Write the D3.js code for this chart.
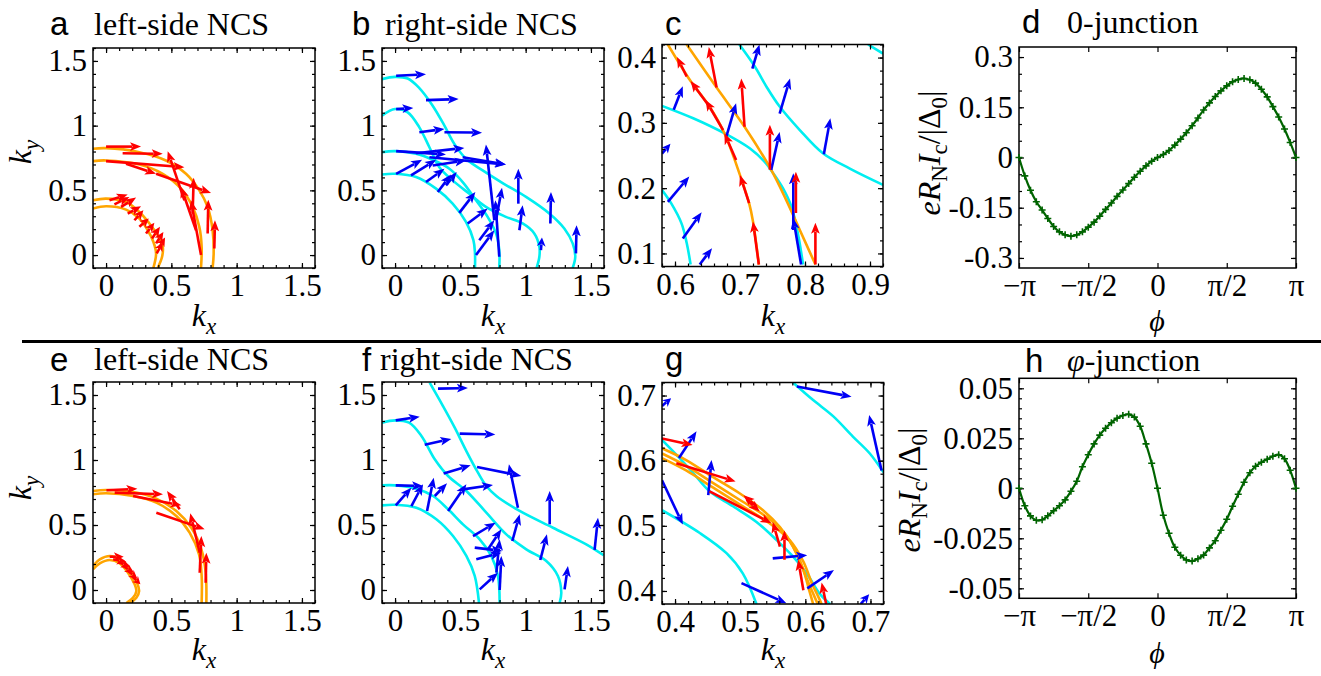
<!DOCTYPE html>
<html lang="en">
<head>
<meta charset="UTF-8">
<title>NCS spin textures and current-phase relations</title>
<script src="https://d3js.org/d3.v7.min.js"></script>
<style>
  body { margin: 0; background: #fff; }
</style>
</head>
<body>
<script>
// ---------- data ----------
const PI = Math.PI;

// panel a: left-side NCS, orange Fermi lines and red spin arrows
const aOuter1 = [[-0.1,0.822],[0,0.826],[0.255,0.795],[0.459,0.731],[0.612,0.628],[0.714,0.5],[0.778,0.372],[0.816,0.192],[0.824,0.013],[0.816,-0.1]];
const aOuter2 = [[-0.1,0.726],[0,0.731],[0.255,0.7],[0.434,0.628],[0.574,0.513],[0.663,0.372],[0.714,0.218],[0.732,0.064],[0.727,-0.1]];
const aInner1 = [[-0.1,0.423],[0,0.436],[0.153,0.41],[0.255,0.333],[0.332,0.244],[0.395,0.154],[0.434,0.064],[0.429,-0.013],[0.395,-0.1]];
const aInner2 = [[-0.1,0.359],[0,0.377],[0.153,0.351],[0.255,0.282],[0.319,0.192],[0.362,0.103],[0.383,0.013],[0.362,-0.1]];
const aRed = [
  [0,0.838,0.268,0.838],[0.127,0.787,0.434,0.782],[0,0.726,0.6,0.679],[0.153,0.705,0.383,0.628],
  [0.6,0.423,0.472,0.803],[0.383,0.628,0.804,0.479],[0.663,0.321,0.671,0.597],[0.778,0.167,0.783,0.428],
  [0.829,0.051,0.834,0.269],[0.727,0,0.65,0.423],[0.689,0.192,0.574,0.526],
  [0.026,0.423,0.166,0.467],[0.064,0.392,0.179,0.449],[0.115,0.372,0.23,0.444],[0.166,0.321,0.268,0.377],
  [0.217,0.269,0.286,0.346],[0.255,0.218,0.327,0.282],[0.306,0.167,0.37,0.249],[0.352,0.128,0.413,0.218],
  [0.383,0.09,0.439,0.179],[0.403,0.051,0.452,0.136],[0.388,0.013,0.434,0.095]
];

// panel b: right-side NCS, cyan Fermi lines and blue spin arrows
const bLine1 = [[-0.1,1.359],[0,1.377],[0.097,1.364],[0.186,1.29],[0.288,1.154],[0.378,1.0],[0.454,0.859],[0.543,0.744],[0.671,0.654],[0.824,0.556],[1.003,0.449],[1.181,0.321],[1.296,0.205],[1.36,0.09],[1.38,-0.013],[1.36,-0.1]];
const bLine2 = [[-0.1,1.077],[0,1.128],[0.097,1.103],[0.186,0.987],[0.263,0.833],[0.339,0.679],[0.441,0.577],[0.569,0.474],[0.696,0.372],[0.849,0.295],[0.977,0.244],[1.066,0.167],[1.105,0.064],[1.105,-0.013],[1.084,-0.1]];
const bLine3 = [[-0.1,0.795],[0,0.803],[0.161,0.782],[0.288,0.736],[0.416,0.667],[0.518,0.564],[0.62,0.423],[0.709,0.295],[0.773,0.167],[0.798,0.038],[0.798,-0.1]];
const bLine4 = [[-0.1,0.623],[0,0.628],[0.161,0.603],[0.314,0.513],[0.441,0.397],[0.543,0.256],[0.6,0.115],[0.612,0.013],[0.612,-0.1]];
const bBlue = [
  [0.008,1.385,0.237,1.397],[0.237,1.197,0.487,1.205],[0.008,1.128,0.14,1.136],[0.186,0.949,0.378,0.974],
  [0.378,0.949,0.666,0.946],[0.008,0.803,0.39,0.777],[0.161,0.787,0.531,0.828],[0.263,0.756,0.849,0.7],
  [0.008,0.628,0.207,0.736],[0.122,0.615,0.314,0.736],[0.237,0.564,0.378,0.667],[0.288,0.692,0.543,0.731],
  [0.327,0.487,0.429,0.623],[0.39,0.538,0.472,0.641],[0.492,0.326,0.615,0.487],[0.556,0.244,0.709,0.359],
  [0.62,0,0.76,0.192],[0.645,0.115,0.76,0.269],[0.76,0.269,0.696,0.854],[0.773,0.269,0.819,0.521],
  [0.798,-0.013,0.768,0.423],[0.952,0.192,0.977,0.385],[0.944,0.397,0.944,0.667],[1.189,0.244,1.194,0.487],
  [1.117,0.038,1.125,0.136],[1.385,0.013,1.39,0.231],[0.518,0.756,0.849,0.7]
];

// panel c: zoom of the crossing region
const cOrange1 = [[0.618,0.42],[0.664,0.354],[0.707,0.294],[0.748,0.228],[0.771,0.182],[0.792,0.136],[0.816,0.083]];
const cOrange2 = [[0.589,0.42],[0.624,0.364],[0.653,0.325],[0.676,0.284],[0.7,0.22],[0.714,0.177],[0.72,0.149],[0.729,0.083]];
const cCyan1 = [[0.58,0.326],[0.628,0.307],[0.678,0.283],[0.715,0.261],[0.74,0.238],[0.751,0.223],[0.766,0.2],[0.779,0.172],[0.789,0.131],[0.797,0.083]];
const cCyan2 = [[0.699,0.42],[0.723,0.386],[0.741,0.355],[0.761,0.325],[0.792,0.289],[0.828,0.253],[0.869,0.23],[0.92,0.205]];
const cCyan3 = [[0.897,0.42],[0.92,0.406]];
const cCyan4 = [[0.58,0.197],[0.594,0.177],[0.61,0.146],[0.618,0.116],[0.624,0.083]];
const cRed = [
  [0.664,0.354,0.652,0.416],[0.707,0.294,0.702,0.368],[0.746,0.228,0.746,0.297],[0.786,0.162,0.786,0.225],
  [0.816,0.083,0.816,0.147],[0.729,0.083,0.72,0.149],[0.714,0.177,0.7,0.22],[0.694,0.243,0.676,0.284],
  [0.674,0.289,0.647,0.335],[0.653,0.325,0.624,0.364],[0.618,0.371,0.603,0.401]
];
const cBlue = [
  [0.598,0.32,0.612,0.356],[0.679,0.279,0.694,0.33],[0.748,0.228,0.761,0.286],[0.761,0.314,0.777,0.368],
  [0.829,0.252,0.839,0.307],[0.719,0.383,0.73,0.42],[0.589,0.179,0.622,0.218],[0.612,0.123,0.641,0.163],
  [0.638,0.083,0.657,0.108],[0.58,0.253,0.593,0.268],[0.794,0.083,0.782,0.154],[0.782,0.136,0.782,0.223]
];

// panel d: 0-junction current-phase relation (phi in units of pi)
const dPhi = [-1,-0.958,-0.917,-0.875,-0.833,-0.792,-0.75,-0.708,-0.667,-0.625,-0.583,-0.542,-0.5,-0.458,-0.417,-0.375,-0.333,-0.292,-0.25,-0.208,-0.167,-0.125,-0.083,-0.042,0,
  0.042,0.083,0.125,0.167,0.208,0.25,0.292,0.333,0.375,0.417,0.458,0.5,0.542,0.583,0.625,0.667,0.708,0.75,0.792,0.833,0.875,0.917,0.958,1];
const dCurrent = [0,-0.055,-0.098,-0.132,-0.157,-0.182,-0.206,-0.222,-0.231,-0.235,-0.231,-0.222,-0.208,-0.193,-0.175,-0.155,-0.136,-0.116,-0.097,-0.078,-0.059,-0.041,-0.025,-0.011,0,
  0.009,0.021,0.037,0.055,0.074,0.095,0.118,0.142,0.163,0.182,0.199,0.214,0.226,0.233,0.236,0.232,0.222,0.204,0.181,0.152,0.121,0.085,0.045,0];

// panel e: left-side NCS (phi-junction case)
const eOuter1 = [[-0.1,0.762],[0,0.769],[0.207,0.754],[0.385,0.703],[0.538,0.608],[0.653,0.479],[0.73,0.313],[0.763,0.133],[0.768,-0.1]];
const eOuter2 = [[-0.1,0.736],[0,0.744],[0.207,0.723],[0.385,0.672],[0.538,0.569],[0.64,0.441],[0.712,0.274],[0.732,0.108],[0.732,-0.1]];
const eInner1 = [[-0.1,0.185],[-0.048,0.236],[0.028,0.262],[0.105,0.236],[0.181,0.159],[0.237,0.056],[0.253,-0.008],[0.232,-0.059],[0.181,-0.1]];
const eInner2 = [[-0.1,0.159],[-0.048,0.205],[0.028,0.231],[0.105,0.205],[0.168,0.133],[0.219,0.044],[0.232,-0.008],[0.207,-0.059],[0.156,-0.1]];
const eRed = [
  [0.003,0.767,0.24,0.779],[0.066,0.749,0.436,0.736],[0.207,0.723,0.577,0.651],[0.564,0.621,0.467,0.762],
  [0.385,0.595,0.755,0.467],[0.717,0.287,0.645,0.59],[0.717,0.133,0.73,0.415],[0.763,0.056,0.768,0.287],
  [0.028,0.256,0.135,0.256],[0.054,0.236,0.156,0.215],[0.092,0.215,0.186,0.179],[0.13,0.185,0.214,0.133],
  [0.168,0.146,0.24,0.087],[0.202,0.103,0.263,0.044]
];

// panel f: right-side NCS (phi-junction case)
const fLine1 = [[0.265,1.595],[0.367,1.415],[0.457,1.249],[0.546,1.069],[0.635,0.903],[0.699,0.8],[0.776,0.723],[0.954,0.608],[1.209,0.479],[1.464,0.351],[1.597,0.267]];
const fLine2 = [[-0.1,1.287],[0,1.305],[0.107,1.287],[0.202,1.185],[0.304,1.005],[0.406,0.877],[0.546,0.762],[0.699,0.595],[0.852,0.428],[1.005,0.313],[1.158,0.223],[1.247,0.108],[1.273,-0.021],[1.26,-0.1]];
const fLine3 = [[-0.1,0.805],[0,0.805],[0.163,0.779],[0.291,0.723],[0.406,0.621],[0.52,0.505],[0.648,0.39],[0.737,0.262],[0.788,0.108],[0.801,-0.1]];
const fLine4 = [[-0.1,0.651],[0,0.656],[0.163,0.633],[0.316,0.544],[0.444,0.415],[0.546,0.262],[0.61,0.108],[0.643,-0.1]];
const fBlue = [
  [0.329,1.549,0.558,1.554],[0.495,1.203,0.768,1.197],[0.005,1.305,0.189,1.333],[0.227,1.118,0.431,1.162],
  [0.372,0.897,0.579,0.959],[0.628,0.946,0.967,0.877],[0.941,0.633,0.872,0.967],[0.005,0.805,0.214,0.8],
  [0.005,0.651,0.125,0.787],[0.125,0.646,0.214,0.813],[0.245,0.608,0.296,0.864],[0.304,0.723,0.398,0.821],
  [0.406,0.608,0.546,0.813],[0.52,0.774,0.75,0.808],[0.597,0.415,0.77,0.518],[0.61,0.326,0.821,0.3],
  [0.622,0.236,0.814,0.287],[0.648,0.005,0.788,0.133],[0.712,0.313,0.814,0.467],[0.776,0.133,0.801,0.39],
  [0.898,0.377,0.954,0.582],[0.801,0,0.814,0.262],[1.112,0.231,1.163,0.428],[1.184,0.505,1.184,0.762],
  [1.298,0.005,1.324,0.185],[1.528,0.308,1.554,0.556]
];

// panel g: zoom of the crossing region (phi-junction case)
const gOrange1 = [[0.38,0.619],[0.417,0.601],[0.458,0.575],[0.499,0.55],[0.535,0.524],[0.561,0.498],[0.581,0.468],[0.597,0.432],[0.606,0.401],[0.612,0.38]];
const gOrange2 = [[0.38,0.611],[0.417,0.592],[0.458,0.566],[0.499,0.54],[0.54,0.514],[0.568,0.489],[0.588,0.455],[0.601,0.422],[0.612,0.396],[0.619,0.38]];
const gOrange3 = [[0.38,0.604],[0.417,0.585],[0.458,0.559],[0.504,0.53],[0.545,0.504],[0.576,0.478],[0.597,0.445],[0.61,0.412],[0.62,0.391],[0.625,0.38]];
const gCyan1 = [[0.38,0.632],[0.407,0.604],[0.428,0.581],[0.453,0.553],[0.489,0.53],[0.525,0.506],[0.556,0.478],[0.581,0.453],[0.602,0.427],[0.622,0.396],[0.638,0.38]];
const gCyan2 = [[0.38,0.524],[0.438,0.489],[0.479,0.458],[0.504,0.427],[0.525,0.38]];
const gCyan3 = [[0.581,0.72],[0.612,0.693],[0.643,0.668],[0.673,0.637],[0.699,0.611],[0.72,0.582]];
const gBlue = [
  [0.587,0.714,0.671,0.698],[0.717,0.585,0.698,0.67],[0.406,0.604,0.433,0.645],[0.451,0.547,0.456,0.601],
  [0.55,0.45,0.603,0.455],[0.603,0.404,0.644,0.432],[0.502,0.412,0.571,0.381],[0.38,0.57,0.412,0.502],
  [0.38,0.684,0.394,0.696],[0.685,0.38,0.698,0.395]
];
const gRed = [
  [0.38,0.634,0.427,0.624],[0.402,0.596,0.493,0.568],[0.453,0.553,0.548,0.504],[0.525,0.53,0.505,0.547],
  [0.51,0.54,0.53,0.522],[0.568,0.448,0.568,0.493],[0.597,0.401,0.589,0.448],[0.632,0.38,0.625,0.413],
  [0.561,0.468,0.55,0.506]
];

// panel h: phi-junction current-phase relation (phi in units of pi)
const hPhi = dPhi;
const hCurrent = [0,-0.0087,-0.0138,-0.016,-0.0157,-0.0137,-0.0112,-0.0087,-0.0058,-0.0015,0.0035,0.0108,0.0168,0.0222,0.0266,0.03,0.0328,0.035,0.0364,0.037,0.0356,0.031,0.0222,0.0125,0,
  -0.0135,-0.0225,-0.0295,-0.0335,-0.0358,-0.0364,-0.0352,-0.0334,-0.0298,-0.0262,-0.021,-0.0155,-0.009,-0.003,0.003,0.0078,0.011,0.013,0.0145,0.016,0.0168,0.0148,0.009,0];

// tick labels
const kTicks = [0, 0.5, 1, 1.5];
const kLabels = ["0", "0.5", "1", "1.5"];
const cXTicks = [0.6, 0.7, 0.8, 0.9], cYTicks = [0.1, 0.2, 0.3, 0.4];
const gTicks = [0.4, 0.5, 0.6, 0.7];
const phiTicks = [-PI, -PI/2, 0, PI/2, PI];
const phiLabels = ["\u2212\u03c0", "\u2212\u03c0/2", "0", "\u03c0/2", "\u03c0"];
const dYTicks = [-0.3, -0.15, 0, 0.15, 0.3];
const dYLabels = ["-0.3", "-0.15", "0", "0.15", "0.3"];
const hYTicks = [-0.05, -0.025, 0, 0.025, 0.05];
const hYLabels = ["-0.05", "-0.025", "0", "0.025", "0.05"];

// ---------- drawing ----------
const RED = "#ff0000", BLUE = "#0000f5", CYAN = "#00eef0", ORANGE = "#ffa500", GREEN = "#006400";
const SERIF = "'Liberation Serif', 'Times New Roman', Times, serif";
const SANS = "'Liberation Sans', Arial, Helvetica, sans-serif";

const svg = d3.select("body").append("svg").attr("width", 1321).attr("height", 676);
svg.append("rect").attr("width", 1321).attr("height", 676).attr("fill", "#fff");

function drawArrow(sel, x0, y0, x1, y1, color) {
  const dx = x1 - x0, dy = y1 - y0, L = Math.hypot(dx, dy);
  if (L < 0.5) return;
  const ux = dx / L, uy = dy / L;
  const hl = Math.min(11, L * 0.7), hw = 4.4;
  const bx = x1 - ux * hl, by = y1 - uy * hl;
  sel.append("line")
    .attr("x1", x0).attr("y1", y0).attr("x2", bx + ux * 2).attr("y2", by + uy * 2)
    .attr("stroke", color).attr("stroke-width", 2.6);
  sel.append("path")
    .attr("d", `M${x1},${y1}L${bx - uy * hw},${by + ux * hw}L${bx + ux * 2.5},${by + uy * 2.5}L${bx + uy * hw},${by - ux * hw}Z`)
    .attr("fill", color);
}

function fmtFrom(values, labels) {
  return v => { const i = values.findIndex(t => Math.abs(t - v) < 1e-9); return i < 0 ? "" : labels[i]; };
}

function panel(p) {
  const g = svg.append("g").attr("transform", `translate(${p.left},${p.top})`);
  const x = d3.scaleLinear().domain(p.xd).range([0, p.w]);
  const y = d3.scaleLinear().domain(p.yd).range([p.h, 0]);

  g.append("clipPath").attr("id", "clip-" + p.name)
    .append("rect").attr("width", p.w).attr("height", p.h);
  const plot = g.append("g").attr("clip-path", `url(#clip-${p.name})`);

  const line = d3.line().x(d => x(d[0])).y(d => y(d[1])).curve(d3.curveCatmullRom);
  (p.curves || []).forEach(c => {
    plot.append("path").attr("d", line(c.pts))
      .attr("fill", "none").attr("stroke", c.color).attr("stroke-width", 2.6);
  });
  (p.arrows || []).forEach(a => a.list.forEach(v => drawArrow(plot, x(v[0]), y(v[1]), x(v[2]), y(v[3]), a.color)));

  // ticks on all four sides, pointing inward
  const addAxis = (axis, tr, vals, size, fmt, pad) => {
    const ag = g.append("g").attr("transform", tr)
      .call(axis.tickValues(vals).tickSize(-size).tickPadding(pad || 8).tickFormat(fmt || ""));
    ag.select(".domain").remove();
    ag.selectAll("line").attr("stroke", "#000").attr("stroke-width", 1.2);
    ag.selectAll("text").style("font-family", SERIF).style("font-size", "31px").attr("fill", "#000");
    return ag;
  };
  addAxis(d3.axisBottom(x), `translate(0,${p.h})`, p.xminor, 3);
  addAxis(d3.axisTop(x), "translate(0,0)", p.xminor, 3);
  addAxis(d3.axisLeft(y), "translate(0,0)", p.yminor, 3);
  addAxis(d3.axisRight(y), `translate(${p.w},0)`, p.yminor, 3);
  addAxis(d3.axisBottom(x), `translate(0,${p.h})`, p.xt, 5, p.xfmt, 6);
  addAxis(d3.axisTop(x), "translate(0,0)", p.xt, 5);
  addAxis(d3.axisLeft(y), "translate(0,0)", p.yt, 5, p.yfmt, 6);
  addAxis(d3.axisRight(y), `translate(${p.w},0)`, p.yt, 5);

  g.append("rect").attr("width", p.w).attr("height", p.h)
    .attr("fill", "none").attr("stroke", "#000").attr("stroke-width", 1.5);
  return { g, x, y, plot };
}

function serifText(x, y, size) {
  return svg.append("text").attr("x", x).attr("y", y)
    .style("font-family", SERIF).style("font-size", size + "px").attr("fill", "#000");
}

function kLabel(x, y, main, sub, rotate) {
  const t = svg.append("text").attr("text-anchor", "middle").style("font-family", SERIF)
    .attr("transform", `translate(${x},${y})` + (rotate ? " rotate(-90)" : ""));
  t.append("tspan").style("font-style", "italic").style("font-size", "32px").text(main);
  t.append("tspan").style("font-style", "italic").style("font-size", "23px").attr("dy", 8).text(sub);
}

function currentLabel(x, y) {
  const t = svg.append("text").attr("text-anchor", "middle")
    .style("font-family", SERIF).style("font-size", "32px")
    .attr("transform", `translate(${x},${y}) rotate(-90)`);
  t.append("tspan").style("font-style", "italic").text("eR");
  t.append("tspan").style("font-size", "23px").attr("dy", 7).text("N");
  t.append("tspan").style("font-style", "italic").attr("dy", -7).text("I");
  t.append("tspan").style("font-size", "23px").attr("dy", 7).text("c");
  t.append("tspan").attr("dy", -7).text("/|\u0394");
  t.append("tspan").style("font-size", "23px").attr("dy", 7).text("0");
  t.append("tspan").attr("dy", -7).text("|");
}

const kMinor = d3.range(-0.1, 1.6001, 0.1);
const kFmt = fmtFrom(kTicks, kLabels);
const num = d => String(+d.toFixed(3));

// a
panel({ name: "a", left: 93, top: 48, w: 222, h: 220, xd: [-0.1, 1.6], yd: [-0.1, 1.6],
  xt: kTicks, yt: kTicks, xminor: kMinor, yminor: kMinor, xfmt: kFmt, yfmt: kFmt,
  curves: [aOuter1, aOuter2, aInner1, aInner2].map(pts => ({ pts, color: ORANGE })),
  arrows: [{ list: aRed, color: RED }] });
// b
panel({ name: "b", left: 382, top: 48, w: 222, h: 220, xd: [-0.1, 1.6], yd: [-0.1, 1.6],
  xt: kTicks, yt: kTicks, xminor: kMinor, yminor: kMinor, xfmt: kFmt, yfmt: kFmt,
  curves: [bLine1, bLine2, bLine3, bLine4].map(pts => ({ pts, color: CYAN })),
  arrows: [{ list: bBlue, color: BLUE }] });
// c
panel({ name: "c", left: 662, top: 44.5, w: 221, h: 222, xd: [0.58, 0.92], yd: [0.08, 0.42],
  xt: cXTicks, yt: cYTicks, xminor: d3.range(0.58, 0.9201, 0.02), yminor: d3.range(0.08, 0.4201, 0.02),
  xfmt: num, yfmt: num,
  curves: [cCyan1, cCyan2, cCyan3, cCyan4].map(pts => ({ pts, color: CYAN }))
    .concat([cOrange1, cOrange2].map(pts => ({ pts, color: ORANGE }))),
  arrows: [{ list: cBlue, color: BLUE }, { list: cRed, color: RED }] });
// e
panel({ name: "e", left: 93, top: 382, w: 222, h: 221, xd: [-0.1, 1.6], yd: [-0.1, 1.6],
  xt: kTicks, yt: kTicks, xminor: kMinor, yminor: kMinor, xfmt: kFmt, yfmt: kFmt,
  curves: [eOuter1, eOuter2, eInner1, eInner2].map(pts => ({ pts, color: ORANGE })),
  arrows: [{ list: eRed, color: RED }] });
// f
panel({ name: "f", left: 382, top: 382, w: 222, h: 221, xd: [-0.1, 1.6], yd: [-0.1, 1.6],
  xt: kTicks, yt: kTicks, xminor: kMinor, yminor: kMinor, xfmt: kFmt, yfmt: kFmt,
  curves: [fLine1, fLine2, fLine3, fLine4].map(pts => ({ pts, color: CYAN })),
  arrows: [{ list: fBlue, color: BLUE }] });
// g
panel({ name: "g", left: 662, top: 382.5, w: 221.5, h: 221.5, xd: [0.38, 0.72], yd: [0.38, 0.72],
  xt: gTicks, yt: gTicks, xminor: d3.range(0.38, 0.7201, 0.02), yminor: d3.range(0.38, 0.7201, 0.02),
  xfmt: num, yfmt: num,
  curves: [gCyan1, gCyan2, gCyan3].map(pts => ({ pts, color: CYAN }))
    .concat([gOrange1, gOrange2, gOrange3].map(pts => ({ pts, color: ORANGE }))),
  arrows: [{ list: gBlue, color: BLUE }, { list: gRed, color: RED }] });

// current-phase panels
function cpr(name, top, h, yd, yt, ylab, yminor, phi, cur) {
  const P = panel({ name, left: 1019, top, w: 277, h, xd: [-PI, PI], yd,
    xt: phiTicks, yt, xminor: [], yminor, xfmt: fmtFrom(phiTicks, phiLabels), yfmt: fmtFrom(yt, ylab) });
  const pts = phi.map((t, i) => [t * PI, cur[i]]);
  P.plot.append("path")
    .attr("d", d3.line().x(d => P.x(d[0])).y(d => P.y(d[1])).curve(d3.curveCatmullRom)(pts))
    .attr("fill", "none").attr("stroke", GREEN).attr("stroke-width", 2.2);
  P.g.selectAll(".mk").data(pts).join("path").attr("class", "mk")
    .attr("d", d => { const cx = P.x(d[0]), cy = P.y(d[1]); return `M${cx-3.5},${cy}H${cx+3.5}M${cx},${cy-3.5}V${cy+3.5}`; })
    .attr("stroke", GREEN).attr("stroke-width", 1.6);
}
cpr("d", 47, 221, [-0.33, 0.33], dYTicks, dYLabels, d3.range(-0.3, 0.3001, 0.05), dPhi, dCurrent);
cpr("h", 378.3, 220, [-0.055, 0.055], hYTicks, hYLabels, d3.range(-0.05, 0.0501, 0.005), hPhi, hCurrent);

// ---------- texts ----------
const letters = [["a", 50, 35], ["b", 352, 35], ["c", 665, 35], ["d", 1022, 33],
                 ["e", 50, 371], ["f", 362, 371], ["g", 665, 370], ["h", 1025, 372]];
letters.forEach(([s, x, y]) => svg.append("text").attr("x", x).attr("y", y)
  .style("font-family", SANS).style("font-size", "33px").attr("fill", "#000").text(s));

const titles = [["left-side NCS", 94, 35], ["right-side NCS", 385, 35], ["0-junction", 1067, 33],
                ["left-side NCS", 94, 370], ["right-side NCS", 380, 370]];
titles.forEach(([s, x, y]) => serifText(x, y, 32).text(s));
const ph = serifText(1067, 371, 32);
ph.append("tspan").style("font-style", "italic").text("\u03c6");
ph.append("tspan").text("-junction");

[[204, 326], [493, 326], [773, 326], [204, 660], [493, 660], [773, 660]].forEach(([x, y]) => kLabel(x, y, "k", "x"));
kLabel(31, 152, "k", "y", true);
kLabel(31, 488, "k", "y", true);

[[1157, 331], [1157, 663]].forEach(([x, y]) =>
  serifText(x, y, 30).attr("text-anchor", "middle").style("font-style", "italic").text("\u03d5"));
currentLabel(940, 153);
currentLabel(920, 490);

// divider between the two rows
svg.append("line").attr("x1", 22).attr("x2", 1321).attr("y1", 341.5).attr("y2", 341.5)
  .attr("stroke", "#000").attr("stroke-width", 3);
</script>
</body>
</html>
